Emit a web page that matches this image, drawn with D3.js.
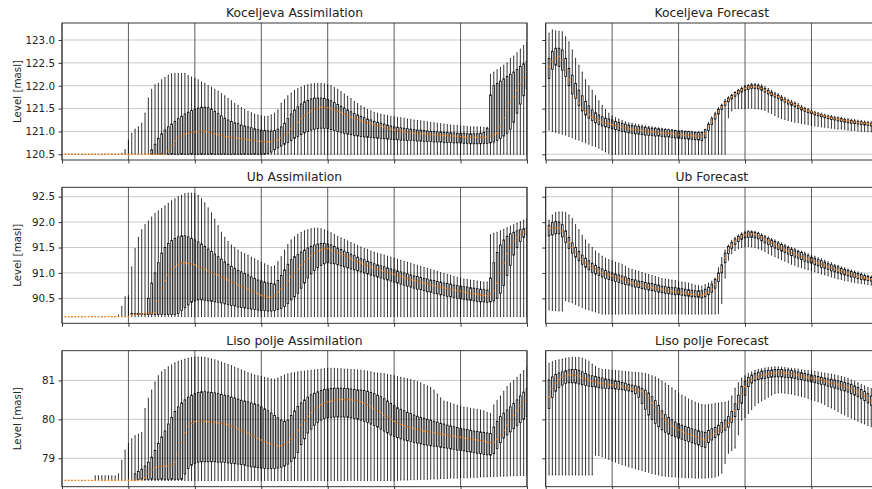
<!DOCTYPE html>
<html>
<head>
<meta charset="utf-8">
<script src="https://cdn.jsdelivr.net/npm/d3@7.9.0/dist/d3.min.js"></script>
<style>
  body { margin: 0; background: #fff; }
  svg { display: block; }
  text { font-family: "DejaVu Sans", sans-serif; }
</style>
</head>
<body>
<svg id="chart" width="872" height="489"></svg>
<script>
// ---- Koceljeva, assimilation (140 steps) ----
const kocAsmLo = [
  120.5,120.5,120.5,120.5,120.5,120.5,120.5,120.5,120.5,120.5,
  120.5,120.5,120.5,120.5,120.5,120.5,120.5,120.5,120.5,120.5,
  120.5,120.5,120.5,120.5,120.5,120.5,120.5,120.5,120.5,120.5,
  120.5,120.5,120.5,120.5,120.5,120.5,120.5,120.5,120.5,120.5,
  120.5,120.5,120.5,120.5,120.5,120.5,120.5,120.5,120.5,120.5,
  120.5,120.5,120.5,120.5,120.5,120.5,120.5,120.5,120.5,120.5,
  120.5,120.5,120.5,120.5,120.5,120.5,120.5,120.5,120.5,120.5,
  120.5,120.5,120.5,120.5,120.5,120.5,120.5,120.5,120.5,120.5,
  120.5,120.5,120.5,120.5,120.5,120.5,120.5,120.5,120.5,120.5,
  120.5,120.5,120.5,120.5,120.5,120.5,120.5,120.5,120.5,120.5,
  120.5,120.5,120.5,120.5,120.5,120.5,120.5,120.5,120.5,120.5,
  120.5,120.5,120.5,120.5,120.5,120.5,120.5,120.5,120.5,120.5,
  120.5,120.5,120.5,120.5,120.5,120.5,120.5,120.5,120.5,120.5,
  120.5,120.5,120.5,120.5,120.5,120.5,120.5,120.5,120.5,120.5];
const kocAsmQ1 = [
  120.5,120.5,120.5,120.5,120.5,120.5,120.5,120.5,120.5,120.5,
  120.5,120.5,120.5,120.5,120.5,120.5,120.5,120.5,120.5,120.5,
  120.5,120.5,120.5,120.5,120.5,120.5,120.5,120.5,120.5,120.5,
  120.5,120.5,120.5,120.5,120.5,120.5,120.5,120.5,120.5,120.5,
  120.5,120.5,120.5,120.5,120.5,120.5,120.5,120.5,120.5,120.5,
  120.5,120.5,120.5,120.5,120.5,120.5,120.5,120.5,120.5,120.5,
  120.5,120.52,120.55,120.6,120.64,120.68,120.72,120.76,120.8,120.85,
  120.89,120.93,120.97,121.0,121.03,121.05,121.06,121.07,121.07,121.06,
  121.04,121.02,121.0,120.98,120.96,120.94,120.93,120.91,120.9,120.89,
  120.88,120.87,120.87,120.86,120.85,120.85,120.84,120.83,120.83,120.82,
  120.82,120.81,120.81,120.8,120.8,120.8,120.79,120.79,120.78,120.78,
  120.78,120.77,120.77,120.77,120.76,120.76,120.76,120.75,120.75,120.75,
  120.74,120.74,120.73,120.73,120.73,120.73,120.74,120.74,120.75,120.77,
  120.8,120.85,120.9,120.96,121.05,121.2,121.4,121.6,121.78,121.94];
const kocAsmMed = [
  120.5,120.5,120.5,120.5,120.5,120.5,120.5,120.5,120.5,120.5,
  120.5,120.5,120.5,120.5,120.5,120.5,120.5,120.5,120.5,120.5,
  120.5,120.5,120.5,120.5,120.5,120.5,120.5,120.5,120.5,120.5,
  120.5,120.58,120.7,120.8,120.86,120.9,120.94,120.96,120.98,120.99,
  121.0,121.0,121.0,120.99,120.97,120.95,120.93,120.91,120.89,120.88,
  120.87,120.86,120.85,120.84,120.83,120.82,120.81,120.8,120.79,120.78,
  120.77,120.77,120.78,120.8,120.82,120.86,120.92,120.98,121.05,121.12,
  121.2,121.28,121.35,121.41,121.45,121.49,121.51,121.53,121.53,121.52,
  121.5,121.47,121.44,121.41,121.38,121.35,121.32,121.29,121.26,121.23,
  121.21,121.19,121.17,121.15,121.13,121.11,121.09,121.07,121.05,121.03,
  121.02,121.01,121.0,120.99,120.98,120.97,120.96,120.95,120.95,120.94,
  120.93,120.93,120.92,120.92,120.91,120.91,120.9,120.9,120.89,120.89,
  120.88,120.88,120.87,120.87,120.87,120.87,120.87,120.88,120.9,120.93,
  120.96,121.1,121.3,121.47,121.62,121.76,121.9,122.04,122.18,122.31];
const kocAsmQ3 = [
  120.5,120.5,120.5,120.5,120.5,120.5,120.5,120.5,120.5,120.5,
  120.5,120.5,120.5,120.5,120.5,120.5,120.5,120.5,120.5,120.5,
  120.5,120.5,120.5,120.5,120.5,120.5,120.6,120.72,120.85,120.95,
  121.03,121.1,121.16,121.22,121.28,121.33,121.38,121.42,121.46,121.49,
  121.51,121.53,121.53,121.52,121.49,121.44,121.39,121.34,121.29,121.25,
  121.22,121.19,121.17,121.14,121.12,121.1,121.08,121.06,121.04,121.03,
  121.02,121.01,121.01,121.02,121.05,121.1,121.18,121.28,121.38,121.47,
  121.54,121.6,121.65,121.68,121.71,121.73,121.73,121.73,121.72,121.7,
  121.67,121.63,121.59,121.55,121.51,121.47,121.43,121.39,121.36,121.33,
  121.3,121.27,121.25,121.22,121.2,121.18,121.16,121.14,121.12,121.1,
  121.09,121.08,121.07,121.06,121.05,121.04,121.03,121.03,121.02,121.01,
  121.0,121.0,120.99,120.99,120.98,120.98,120.97,120.97,120.96,120.96,
  120.96,120.95,120.95,120.95,120.95,120.96,120.98,121.07,121.8,122.0,
  122.05,122.1,122.15,122.2,122.25,122.3,122.36,122.42,122.48,122.53];
const kocAsmHi = [
  120.5,120.5,120.5,120.5,120.5,120.5,120.5,120.5,120.5,120.5,
  120.5,120.5,120.5,120.5,120.5,120.5,120.5,120.52,120.6,120.81,
  120.96,121.05,121.1,121.18,121.4,121.73,121.92,122.02,122.05,122.13,
  122.18,122.23,122.26,122.27,122.27,122.27,122.27,122.22,122.19,122.16,
  122.13,122.08,122.05,122.0,121.97,121.92,121.88,121.83,121.78,121.72,
  121.67,121.61,121.57,121.52,121.48,121.44,121.41,121.38,121.36,121.34,
  121.33,121.33,121.36,121.4,121.47,121.62,121.7,121.78,121.84,121.9,
  121.94,121.97,122.0,122.02,122.04,122.05,122.05,122.05,122.04,122.02,
  122.0,121.96,121.92,121.87,121.82,121.77,121.72,121.66,121.61,121.56,
  121.52,121.48,121.45,121.42,121.4,121.38,121.36,121.35,121.33,121.32,
  121.31,121.3,121.29,121.27,121.26,121.25,121.24,121.23,121.22,121.21,
  121.2,121.19,121.18,121.17,121.16,121.15,121.14,121.13,121.13,121.12,
  121.12,121.11,121.1,121.1,121.1,121.1,121.09,121.09,122.25,122.3,
  122.35,122.4,122.45,122.5,122.6,122.65,122.72,122.8,122.88,122.95];

// ---- Ub, assimilation (140 steps) ----
const ubAsmLo = [
  90.14,90.14,90.14,90.14,90.14,90.14,90.14,90.14,90.14,90.14,
  90.14,90.14,90.14,90.14,90.14,90.14,90.14,90.14,90.14,90.14,
  90.14,90.14,90.14,90.14,90.14,90.14,90.14,90.14,90.14,90.14,
  90.14,90.14,90.14,90.14,90.14,90.14,90.14,90.14,90.14,90.14,
  90.14,90.14,90.14,90.14,90.14,90.14,90.14,90.14,90.14,90.14,
  90.14,90.14,90.14,90.14,90.14,90.14,90.14,90.14,90.14,90.14,
  90.14,90.14,90.14,90.14,90.14,90.14,90.14,90.14,90.14,90.14,
  90.14,90.14,90.14,90.14,90.14,90.14,90.14,90.14,90.14,90.14,
  90.14,90.14,90.14,90.14,90.14,90.14,90.14,90.14,90.14,90.14,
  90.14,90.14,90.14,90.14,90.14,90.14,90.14,90.14,90.14,90.14,
  90.14,90.14,90.14,90.14,90.14,90.14,90.14,90.14,90.14,90.14,
  90.14,90.14,90.14,90.14,90.14,90.14,90.14,90.14,90.14,90.14,
  90.14,90.14,90.14,90.14,90.14,90.14,90.14,90.14,90.14,90.14,
  90.14,90.14,90.14,90.14,90.14,90.14,90.14,90.14,90.14,90.14];
const ubAsmQ1 = [
  90.14,90.14,90.14,90.14,90.14,90.14,90.14,90.14,90.14,90.14,
  90.14,90.14,90.14,90.14,90.14,90.14,90.14,90.14,90.14,90.14,
  90.18,90.18,90.18,90.18,90.18,90.18,90.18,90.18,90.18,90.18,
  90.18,90.18,90.18,90.18,90.2,90.26,90.32,90.37,90.42,90.45,
  90.47,90.47,90.46,90.45,90.44,90.43,90.42,90.41,90.39,90.38,
  90.36,90.35,90.33,90.32,90.31,90.3,90.29,90.28,90.27,90.26,
  90.26,90.25,90.25,90.26,90.28,90.3,90.34,90.4,90.47,90.53,
  90.6,90.7,90.8,90.9,90.98,91.05,91.1,91.15,91.18,91.2,
  91.19,91.18,91.16,91.14,91.12,91.1,91.08,91.06,91.04,91.02,
  91.0,90.98,90.96,90.94,90.92,90.9,90.88,90.86,90.84,90.82,
  90.8,90.78,90.76,90.74,90.72,90.7,90.68,90.67,90.65,90.63,
  90.62,90.6,90.59,90.57,90.56,90.54,90.53,90.52,90.5,90.49,
  90.48,90.47,90.46,90.45,90.44,90.43,90.43,90.42,90.43,90.45,
  90.5,90.6,90.75,90.95,91.15,91.35,91.5,91.62,91.7,91.76];
const ubAsmMed = [
  90.14,90.14,90.14,90.14,90.14,90.14,90.14,90.14,90.14,90.14,
  90.14,90.14,90.14,90.14,90.14,90.14,90.14,90.14,90.14,90.14,
  90.18,90.19,90.19,90.2,90.2,90.21,90.21,90.22,90.45,90.7,
  90.85,90.96,91.06,91.12,91.16,91.19,91.2,91.19,91.18,91.16,
  91.13,91.1,91.07,91.04,91.01,90.98,90.95,90.92,90.89,90.86,
  90.83,90.8,90.77,90.74,90.71,90.68,90.65,90.62,90.59,90.56,
  90.54,90.52,90.52,90.55,90.62,90.68,90.76,90.84,90.92,91.0,
  91.08,91.15,91.22,91.28,91.34,91.39,91.43,91.46,91.48,91.48,
  91.45,91.43,91.4,91.37,91.34,91.31,91.28,91.25,91.22,91.2,
  91.17,91.15,91.12,91.1,91.07,91.05,91.03,91.01,90.99,90.97,
  90.95,90.93,90.91,90.89,90.87,90.85,90.84,90.82,90.8,90.79,
  90.77,90.75,90.74,90.72,90.71,90.69,90.68,90.66,90.65,90.64,
  90.62,90.61,90.6,90.59,90.58,90.57,90.56,90.55,90.58,90.65,
  90.8,91.0,91.2,91.38,91.52,91.62,91.7,91.76,91.8,91.84];
const ubAsmQ3 = [
  90.14,90.14,90.14,90.14,90.14,90.14,90.14,90.14,90.14,90.14,
  90.14,90.14,90.14,90.14,90.14,90.14,90.14,90.14,90.14,90.14,
  90.2,90.2,90.2,90.2,90.2,90.5,90.8,91.0,91.2,91.39,
  91.5,91.58,91.64,91.68,91.71,91.73,91.73,91.71,91.68,91.65,
  91.61,91.57,91.52,91.47,91.42,91.37,91.32,91.27,91.22,91.17,
  91.13,91.09,91.05,91.02,90.99,90.96,90.92,90.89,90.86,90.84,
  90.82,90.8,90.79,90.78,90.85,90.95,91.06,91.17,91.26,91.32,
  91.36,91.41,91.45,91.49,91.52,91.55,91.57,91.58,91.58,91.57,
  91.55,91.52,91.49,91.46,91.43,91.4,91.37,91.34,91.31,91.28,
  91.26,91.23,91.21,91.18,91.16,91.14,91.12,91.1,91.08,91.06,
  91.04,91.02,91.0,90.98,90.96,90.94,90.93,90.91,90.89,90.88,
  90.86,90.85,90.83,90.82,90.8,90.79,90.78,90.76,90.75,90.74,
  90.73,90.72,90.71,90.7,90.69,90.68,90.67,90.66,90.9,91.2,
  91.4,91.55,91.65,91.72,91.77,91.8,91.83,91.85,91.87,91.89];
const ubAsmHi = [
  90.14,90.14,90.14,90.14,90.14,90.14,90.14,90.14,90.14,90.14,
  90.14,90.14,90.14,90.14,90.14,90.14,90.17,90.34,90.53,90.55,
  91.12,91.48,91.7,91.85,91.95,92.02,92.1,92.17,92.22,92.27,
  92.32,92.37,92.42,92.46,92.5,92.53,92.56,92.57,92.57,92.56,
  92.53,92.46,92.38,92.28,92.18,92.06,91.93,91.8,91.7,91.62,
  91.55,91.5,91.45,91.41,91.38,91.35,91.31,91.28,91.24,91.21,
  91.18,91.15,91.12,91.14,91.22,91.32,91.45,91.56,91.65,91.71,
  91.76,91.8,91.83,91.85,91.87,91.88,91.88,91.87,91.85,91.82,
  91.79,91.76,91.72,91.69,91.66,91.63,91.6,91.57,91.54,91.51,
  91.48,91.46,91.43,91.41,91.39,91.37,91.35,91.33,91.31,91.29,
  91.27,91.25,91.23,91.21,91.19,91.17,91.15,91.13,91.11,91.09,
  91.07,91.05,91.03,91.01,90.99,90.97,90.95,90.93,90.91,90.9,
  90.88,90.87,90.86,90.85,90.84,90.83,90.82,90.82,91.75,91.78,
  91.8,91.83,91.86,91.89,91.92,91.95,91.98,92.01,92.04,92.07];

// ---- Liso polje, assimilation (140 steps) ----
const lisoAsmLo = [
  78.43,78.43,78.43,78.43,78.43,78.43,78.43,78.43,78.43,78.43,
  78.43,78.43,78.43,78.43,78.43,78.43,78.43,78.43,78.43,78.43,
  78.43,78.43,78.43,78.43,78.43,78.43,78.43,78.43,78.43,78.43,
  78.43,78.43,78.43,78.43,78.43,78.43,78.43,78.43,78.43,78.43,
  78.43,78.43,78.43,78.43,78.43,78.43,78.43,78.43,78.43,78.43,
  78.43,78.43,78.43,78.43,78.43,78.43,78.43,78.43,78.43,78.43,
  78.43,78.43,78.43,78.43,78.43,78.43,78.43,78.43,78.43,78.43,
  78.43,78.43,78.43,78.43,78.43,78.43,78.43,78.43,78.43,78.43,
  78.43,78.43,78.43,78.43,78.43,78.43,78.43,78.43,78.43,78.43,
  78.43,78.43,78.43,78.43,78.43,78.43,78.43,78.43,78.43,78.43,
  78.43,78.44,78.44,78.44,78.45,78.45,78.45,78.46,78.46,78.46,
  78.47,78.47,78.47,78.48,78.48,78.48,78.49,78.49,78.49,78.5,
  78.5,78.5,78.51,78.51,78.51,78.52,78.52,78.52,78.53,78.53,
  78.53,78.54,78.54,78.54,78.55,78.55,78.55,78.56,78.56,78.56];
const lisoAsmQ1 = [
  78.43,78.43,78.43,78.43,78.43,78.43,78.43,78.43,78.43,78.43,
  78.43,78.43,78.43,78.43,78.43,78.43,78.43,78.43,78.43,78.43,
  78.43,78.43,78.46,78.46,78.46,78.46,78.46,78.46,78.46,78.46,
  78.46,78.46,78.46,78.46,78.46,78.46,78.6,78.74,78.82,78.87,
  78.9,78.91,78.91,78.91,78.91,78.91,78.9,78.9,78.89,78.88,
  78.87,78.86,78.85,78.84,78.82,78.8,78.78,78.77,78.76,78.75,
  78.74,78.74,78.74,78.74,78.75,78.77,78.8,78.85,78.92,79.0,
  79.15,79.35,79.5,79.65,79.75,79.85,79.92,79.98,80.02,80.04,
  80.05,80.06,80.06,80.06,80.06,80.05,80.04,80.02,80.0,79.98,
  79.95,79.92,79.88,79.84,79.8,79.75,79.7,79.65,79.6,79.56,
  79.53,79.5,79.47,79.45,79.43,79.41,79.39,79.37,79.35,79.34,
  79.32,79.31,79.3,79.28,79.27,79.26,79.24,79.23,79.21,79.2,
  79.19,79.17,79.16,79.15,79.13,79.12,79.1,79.09,79.08,79.12,
  79.25,79.4,79.52,79.6,79.68,79.76,79.84,79.92,80.0,80.07];
const lisoAsmMed = [
  78.43,78.43,78.43,78.43,78.43,78.43,78.43,78.43,78.43,78.43,
  78.43,78.43,78.43,78.43,78.43,78.43,78.43,78.43,78.43,78.43,
  78.43,78.43,78.43,78.43,78.5,78.6,78.7,78.76,78.78,78.79,
  78.8,78.8,78.82,78.9,79.1,79.4,79.65,79.82,79.9,79.94,
  79.96,79.95,79.94,79.94,79.93,79.92,79.91,79.9,79.88,79.86,
  79.83,79.8,79.76,79.72,79.68,79.64,79.6,79.56,79.51,79.47,
  79.43,79.39,79.36,79.34,79.32,79.32,79.35,79.42,79.5,79.6,
  79.72,79.85,79.97,80.08,80.17,80.25,80.32,80.38,80.42,80.45,
  80.47,80.49,80.5,80.51,80.51,80.51,80.5,80.49,80.47,80.45,
  80.42,80.38,80.33,80.28,80.22,80.17,80.11,80.05,80.0,79.95,
  79.91,79.87,79.84,79.81,79.78,79.76,79.74,79.72,79.7,79.69,
  79.67,79.66,79.64,79.63,79.61,79.6,79.58,79.57,79.55,79.54,
  79.52,79.51,79.5,79.48,79.47,79.46,79.44,79.42,79.4,79.42,
  79.5,79.6,79.72,79.85,79.98,80.1,80.22,80.34,80.46,80.58];
const lisoAsmQ3 = [
  78.43,78.43,78.43,78.43,78.43,78.43,78.43,78.43,78.43,78.43,
  78.43,78.43,78.43,78.43,78.43,78.43,78.43,78.43,78.43,78.43,
  78.43,78.6,78.66,78.72,78.8,78.9,79.03,79.2,79.38,79.55,
  79.7,79.88,80.05,80.2,80.32,80.42,80.5,80.57,80.62,80.66,
  80.69,80.71,80.71,80.7,80.69,80.68,80.66,80.64,80.62,80.6,
  80.57,80.55,80.52,80.49,80.47,80.45,80.42,80.4,80.37,80.32,
  80.27,80.22,80.16,80.1,80.04,79.98,79.95,79.98,80.1,80.22,
  80.33,80.42,80.5,80.57,80.63,80.67,80.71,80.74,80.77,80.78,
  80.79,80.8,80.8,80.8,80.79,80.79,80.78,80.77,80.76,80.75,
  80.74,80.72,80.69,80.66,80.62,80.58,80.53,80.47,80.41,80.35,
  80.3,80.26,80.22,80.18,80.15,80.11,80.08,80.05,80.03,80.0,
  79.98,79.95,79.93,79.9,79.88,79.85,79.83,79.81,79.79,79.77,
  79.75,79.74,79.72,79.7,79.69,79.68,79.66,79.65,79.64,79.8,
  79.95,80.07,80.16,80.24,80.32,80.41,80.5,80.6,80.7,80.79];
const lisoAsmHi = [
  78.43,78.43,78.43,78.43,78.43,78.43,78.43,78.43,78.43,78.55,
  78.55,78.55,78.55,78.55,78.55,78.55,78.6,78.95,79.21,79.38,
  79.5,79.58,79.62,79.66,80.28,80.54,80.75,80.96,81.12,81.22,
  81.28,81.35,81.4,81.45,81.49,81.52,81.55,81.57,81.59,81.6,
  81.6,81.6,81.59,81.57,81.55,81.53,81.5,81.47,81.44,81.41,
  81.38,81.34,81.31,81.27,81.24,81.2,81.17,81.14,81.12,81.1,
  81.08,81.06,81.04,81.03,81.06,81.1,81.14,81.17,81.19,81.2,
  81.22,81.23,81.24,81.25,81.26,81.27,81.28,81.29,81.3,81.31,
  81.31,81.31,81.3,81.3,81.29,81.29,81.28,81.28,81.27,81.26,
  81.25,81.24,81.22,81.2,81.19,81.18,81.17,81.15,81.14,81.12,
  81.1,81.08,81.06,81.04,81.02,81.0,80.97,80.94,80.9,80.86,
  80.82,80.75,80.65,80.55,80.47,80.45,80.42,80.39,80.36,80.33,
  80.31,80.3,80.28,80.27,80.25,80.24,80.22,80.18,80.15,80.37,
  80.48,80.6,80.72,80.84,80.93,81.0,81.08,81.16,81.25,81.35];

// ---- Koceljeva, forecast (100 steps) ----
const kocFcLo = [
  121.03,121.0,120.98,120.96,120.94,120.92,120.89,120.86,120.83,120.81,
  120.78,120.75,120.72,120.69,120.67,120.63,120.59,120.55,120.52,120.5,
  120.5,120.5,120.5,120.5,120.5,120.5,120.5,120.5,120.5,120.5,
  120.5,120.5,120.5,120.5,120.5,120.5,120.5,120.5,120.5,120.5,
  120.5,120.5,120.5,120.5,120.5,120.5,120.5,120.5,120.5,120.5,
  120.5,120.5,120.5,120.5,121.3,121.45,121.5,121.5,121.5,121.5,
  121.51,121.51,121.5,121.49,121.48,121.46,121.42,121.39,121.35,121.31,
  121.28,121.26,121.24,121.22,121.2,121.19,121.17,121.16,121.15,121.13,
  121.12,121.11,121.1,121.09,121.08,121.07,121.06,121.05,121.05,121.04,
  121.03,121.02,121.02,121.01,121.0,121.0,120.99,120.99,120.98,120.98];
const kocFcQ1 = [
  122.16,122.36,122.45,122.42,122.34,122.2,122.0,121.82,121.72,121.57,
  121.45,121.36,121.29,121.24,121.19,121.15,121.12,121.1,121.08,121.06,
  121.04,121.02,121.0,120.99,120.97,120.96,120.95,120.94,120.93,120.92,
  120.91,120.91,120.9,120.9,120.89,120.88,120.88,120.87,120.86,120.85,
  120.85,120.84,120.83,120.83,120.82,120.81,120.8,120.86,121.02,121.15,
  121.27,121.38,121.48,121.57,121.65,121.71,121.77,121.82,121.86,121.9,
  121.92,121.94,121.94,121.93,121.9,121.86,121.82,121.78,121.75,121.72,
  121.68,121.64,121.6,121.57,121.54,121.5,121.47,121.44,121.41,121.39,
  121.36,121.34,121.32,121.3,121.28,121.26,121.25,121.23,121.22,121.2,
  121.19,121.18,121.17,121.16,121.15,121.14,121.13,121.12,121.12,121.11];
const kocFcMed = [
  122.42,122.53,122.6,122.64,122.56,122.34,122.13,121.91,121.76,121.62,
  121.52,121.44,121.37,121.31,121.28,121.24,121.21,121.19,121.17,121.15,
  121.13,121.12,121.1,121.08,121.06,121.05,121.04,121.03,121.02,121.01,
  121.0,120.99,120.99,120.98,120.97,120.96,120.96,120.95,120.94,120.93,
  120.93,120.92,120.92,120.91,120.9,120.9,120.89,120.95,121.1,121.22,
  121.33,121.43,121.53,121.62,121.7,121.76,121.82,121.86,121.91,121.94,
  121.97,121.98,121.98,121.97,121.94,121.9,121.86,121.82,121.79,121.76,
  121.72,121.68,121.65,121.62,121.59,121.55,121.51,121.48,121.45,121.43,
  121.4,121.38,121.36,121.34,121.31,121.3,121.28,121.27,121.26,121.24,
  121.23,121.22,121.21,121.2,121.19,121.18,121.17,121.16,121.16,121.15];
const kocFcQ3 = [
  122.6,122.75,122.82,122.82,122.78,122.6,122.38,122.23,122.05,121.9,
  121.78,121.66,121.56,121.47,121.41,121.36,121.32,121.29,121.27,121.25,
  121.22,121.2,121.18,121.16,121.14,121.13,121.12,121.11,121.1,121.09,
  121.08,121.07,121.07,121.06,121.05,121.04,121.04,121.03,121.02,121.01,
  121.01,121.0,121.0,120.99,120.98,120.98,120.98,121.04,121.16,121.28,
  121.38,121.48,121.57,121.66,121.73,121.79,121.85,121.9,121.94,121.98,
  122.0,122.02,122.02,122.01,121.98,121.94,121.9,121.86,121.82,121.79,
  121.75,121.71,121.67,121.64,121.61,121.57,121.53,121.5,121.47,121.44,
  121.41,121.39,121.37,121.35,121.33,121.32,121.3,121.29,121.28,121.26,
  121.25,121.24,121.23,121.22,121.21,121.2,121.19,121.18,121.18,121.17];
const kocFcHi = [
  123.15,123.22,123.2,123.19,123.18,123.07,122.96,122.78,122.6,122.45,
  122.3,122.13,122.0,121.9,121.78,121.67,121.57,121.48,121.4,121.34,
  121.3,121.27,121.24,121.21,121.19,121.18,121.16,121.15,121.14,121.12,
  121.11,121.1,121.09,121.08,121.07,121.06,121.05,121.04,121.03,121.02,
  121.02,121.01,121.0,121.0,120.99,120.99,120.99,121.05,121.2,121.32,
  121.42,121.52,121.6,121.7,121.76,121.81,121.87,121.92,121.97,122.01,
  122.03,122.05,122.05,122.04,122.02,121.98,121.94,121.9,121.86,121.83,
  121.79,121.75,121.71,121.68,121.65,121.61,121.57,121.53,121.5,121.47,
  121.44,121.42,121.4,121.38,121.36,121.35,121.33,121.32,121.31,121.29,
  121.28,121.27,121.26,121.25,121.24,121.23,121.22,121.21,121.2,121.2];

// ---- Ub, forecast (100 steps) ----
const ubFcLo = [
  90.27,90.26,90.26,90.25,90.25,90.45,90.43,90.41,90.38,90.35,
  90.32,90.29,90.27,90.25,90.23,90.21,90.19,90.19,90.19,90.19,
  90.19,90.19,90.19,90.19,90.19,90.19,90.19,90.19,90.19,90.19,
  90.19,90.19,90.19,90.19,90.19,90.19,90.19,90.19,90.19,90.19,
  90.19,90.19,90.19,90.19,90.19,90.19,90.19,90.19,90.19,90.19,
  90.19,90.2,90.4,90.9,91.25,91.38,91.44,91.48,91.5,91.52,
  91.52,91.51,91.5,91.48,91.45,91.42,91.38,91.35,91.32,91.29,
  91.26,91.23,91.2,91.17,91.15,91.12,91.1,91.08,91.06,91.04,
  91.02,91.0,90.98,90.96,90.94,90.92,90.9,90.88,90.87,90.85,
  90.84,90.82,90.81,90.8,90.79,90.78,90.77,90.76,90.75,90.74];
const ubFcQ1 = [
  91.73,91.75,91.77,91.77,91.71,91.6,91.48,91.39,91.31,91.24,
  91.17,91.11,91.06,91.01,90.98,90.95,90.92,90.89,90.87,90.85,
  90.83,90.81,90.79,90.77,90.76,90.74,90.72,90.71,90.69,90.68,
  90.66,90.65,90.64,90.62,90.61,90.6,90.59,90.58,90.57,90.57,
  90.56,90.55,90.54,90.53,90.53,90.52,90.51,90.53,90.57,90.62,
  90.7,90.83,91.0,91.2,91.38,91.48,91.56,91.62,91.66,91.69,
  91.7,91.7,91.69,91.67,91.63,91.59,91.56,91.52,91.49,91.46,
  91.43,91.4,91.37,91.34,91.31,91.29,91.26,91.23,91.21,91.19,
  91.16,91.14,91.11,91.09,91.07,91.04,91.02,91.0,90.98,90.96,
  90.94,90.92,90.91,90.89,90.87,90.86,90.85,90.84,90.83,90.82];
const ubFcMed = [
  91.88,91.88,91.89,91.88,91.82,91.72,91.6,91.5,91.41,91.33,
  91.26,91.2,91.15,91.1,91.07,91.04,91.01,90.98,90.96,90.94,
  90.92,90.9,90.88,90.86,90.83,90.81,90.79,90.77,90.76,90.74,
  90.73,90.71,90.7,90.69,90.68,90.66,90.65,90.64,90.63,90.62,
  90.61,90.6,90.59,90.58,90.58,90.57,90.56,90.58,90.62,90.68,
  90.77,90.9,91.06,91.3,91.45,91.55,91.62,91.67,91.72,91.75,
  91.77,91.77,91.76,91.74,91.7,91.66,91.63,91.59,91.56,91.52,
  91.49,91.46,91.43,91.4,91.37,91.35,91.32,91.29,91.27,91.25,
  91.22,91.2,91.17,91.15,91.12,91.1,91.07,91.05,91.03,91.01,
  90.99,90.97,90.95,90.93,90.91,90.9,90.88,90.87,90.86,90.85];
const ubFcQ3 = [
  91.94,91.99,92.01,92.0,91.95,91.83,91.7,91.59,91.5,91.42,
  91.35,91.29,91.24,91.19,91.15,91.11,91.08,91.05,91.02,91.0,
  90.98,90.96,90.94,90.92,90.89,90.87,90.86,90.84,90.83,90.81,
  90.8,90.79,90.77,90.76,90.74,90.73,90.72,90.71,90.71,90.7,
  90.69,90.68,90.67,90.66,90.65,90.65,90.65,90.68,90.72,90.78,
  90.87,91.0,91.16,91.39,91.52,91.6,91.67,91.72,91.76,91.79,
  91.81,91.81,91.8,91.78,91.74,91.71,91.68,91.65,91.62,91.59,
  91.56,91.53,91.5,91.47,91.45,91.42,91.4,91.37,91.34,91.31,
  91.29,91.26,91.24,91.21,91.18,91.16,91.14,91.12,91.09,91.07,
  91.05,91.03,91.01,90.99,90.97,90.95,90.93,90.91,90.9,90.89];
const ubFcHi = [
  92.04,92.14,92.19,92.2,92.2,92.19,92.14,92.07,91.95,91.85,
  91.74,91.65,91.57,91.5,91.43,91.38,91.33,91.29,91.26,91.24,
  91.21,91.19,91.17,91.13,91.09,91.07,91.05,91.03,91.01,90.99,
  90.97,90.95,90.93,90.91,90.89,90.88,90.87,90.86,90.85,90.83,
  90.82,90.81,90.8,90.78,90.76,90.75,90.74,90.77,90.8,90.84,
  90.9,91.1,91.3,91.45,91.55,91.64,91.7,91.75,91.79,91.82,
  91.83,91.83,91.82,91.8,91.77,91.74,91.71,91.68,91.65,91.62,
  91.59,91.56,91.53,91.5,91.48,91.45,91.43,91.41,91.38,91.35,
  91.33,91.3,91.28,91.25,91.22,91.2,91.17,91.15,91.12,91.1,
  91.08,91.06,91.04,91.02,91.0,90.98,90.96,90.94,90.93,90.92];

// ---- Liso polje, forecast (100 steps) ----
const lisoFcLo = [
  78.57,78.57,78.57,78.57,78.57,78.57,78.57,78.57,78.57,78.57,
  78.57,78.57,78.57,78.57,79.08,79.07,79.04,79.01,78.97,78.93,
  78.9,78.87,78.84,78.81,78.78,78.76,78.73,78.71,78.69,78.66,
  78.64,78.61,78.59,78.57,78.55,78.54,78.53,78.52,78.52,78.51,
  78.51,78.5,78.5,78.5,78.49,78.49,78.49,78.49,78.5,78.51,
  78.52,78.55,78.62,78.87,79.13,79.2,79.26,79.6,79.98,80.05,
  80.15,80.25,80.35,80.42,80.47,80.52,80.57,80.62,80.66,80.68,
  80.68,80.67,80.66,80.65,80.63,80.61,80.59,80.57,80.54,80.51,
  80.48,80.45,80.42,80.38,80.33,80.29,80.25,80.2,80.15,80.11,
  80.07,80.03,79.99,79.95,79.91,79.88,79.84,79.81,79.79,79.77];
const lisoFcQ1 = [
  80.28,80.56,80.72,80.82,80.88,80.92,80.94,80.94,80.93,80.91,
  80.89,80.87,80.85,80.84,80.83,80.81,80.8,80.79,80.79,80.79,
  80.78,80.77,80.76,80.75,80.73,80.71,80.66,80.56,80.41,80.26,
  80.11,80.0,79.9,79.81,79.73,79.67,79.62,79.58,79.55,79.52,
  79.49,79.46,79.43,79.4,79.37,79.34,79.3,79.28,79.4,79.47,
  79.53,79.6,79.66,79.72,79.8,79.92,80.07,80.25,80.41,80.62,
  80.84,80.93,80.99,81.02,81.04,81.05,81.07,81.08,81.09,81.09,
  81.09,81.08,81.07,81.06,81.05,81.03,81.02,81.0,80.98,80.96,
  80.94,80.92,80.9,80.88,80.85,80.83,80.8,80.78,80.75,80.73,
  80.7,80.66,80.62,80.58,80.53,80.48,80.42,80.36,80.32,80.3];
const lisoFcMed = [
  80.58,80.79,80.93,81.02,81.08,81.12,81.14,81.14,81.13,81.11,
  81.07,81.03,81.0,80.98,80.96,80.94,80.93,80.91,80.9,80.88,
  80.87,80.86,80.84,80.82,80.8,80.78,80.76,80.74,80.71,80.64,
  80.55,80.42,80.3,80.18,80.08,79.99,79.91,79.84,79.78,79.73,
  79.69,79.66,79.62,79.59,79.56,79.53,79.5,79.47,79.55,79.6,
  79.64,79.7,79.76,79.83,79.9,80.02,80.22,80.45,80.66,80.84,
  80.95,81.02,81.07,81.1,81.13,81.15,81.17,81.18,81.19,81.2,
  81.2,81.19,81.18,81.17,81.15,81.13,81.11,81.09,81.08,81.06,
  81.04,81.03,81.01,80.99,80.96,80.94,80.92,80.9,80.87,80.85,
  80.82,80.78,80.74,80.7,80.65,80.6,80.54,80.48,80.45,80.42];
const lisoFcQ3 = [
  81.01,81.09,81.15,81.19,81.22,81.25,81.27,81.28,81.28,81.26,
  81.22,81.18,81.14,81.12,81.1,81.08,81.06,81.04,81.02,81.01,
  80.99,80.97,80.95,80.93,80.9,80.88,80.86,80.84,80.8,80.75,
  80.68,80.58,80.48,80.36,80.22,80.12,80.05,79.99,79.93,79.89,
  79.85,79.82,79.79,79.76,79.73,79.71,79.68,79.66,79.72,79.76,
  79.79,79.85,79.92,79.98,80.07,80.2,80.4,80.62,80.85,80.98,
  81.08,81.14,81.18,81.21,81.24,81.25,81.26,81.27,81.28,81.28,
  81.28,81.27,81.27,81.26,81.24,81.22,81.2,81.18,81.16,81.14,
  81.12,81.1,81.08,81.06,81.04,81.03,81.01,80.99,80.97,80.95,
  80.93,80.9,80.86,80.82,80.77,80.72,80.66,80.6,80.56,80.52];
const lisoFcHi = [
  81.44,81.48,81.51,81.53,81.55,81.57,81.58,81.59,81.59,81.59,
  81.57,81.53,81.49,81.42,81.36,81.31,81.28,81.28,81.27,81.26,
  81.26,81.25,81.24,81.23,81.22,81.21,81.21,81.2,81.19,81.18,
  81.15,81.12,81.09,81.04,80.98,80.93,80.87,80.81,80.74,80.68,
  80.62,80.58,80.52,80.48,80.44,80.41,80.38,80.37,80.38,80.39,
  80.41,80.42,80.43,80.44,80.47,80.6,80.8,80.94,81.06,81.12,
  81.18,81.22,81.26,81.28,81.3,81.32,81.33,81.34,81.35,81.35,
  81.34,81.33,81.32,81.31,81.3,81.29,81.27,81.26,81.25,81.24,
  81.23,81.22,81.2,81.19,81.17,81.16,81.14,81.12,81.1,81.08,
  81.05,81.01,80.98,80.94,80.9,80.86,80.82,80.79,80.76,80.73];

// ---- axes settings ----
const yLims = [[120.375, 123.372], [90.008, 92.685], [78.27, 81.763]];
const yTicks = [[120.5, 121, 121.5, 122, 122.5, 123], [90.5, 91, 91.5, 92, 92.5], [79, 80, 81]];
const yFormats = ['.1f', '.1f', 'd'];
const xLims = [[0, 140], [0, 100]];
const xTicks = [[0, 20, 40, 60, 80, 100, 120, 140], [0, 20, 40, 60, 80, 100]];

const panels = [
  { title: 'Koceljeva Assimilation', row: 0, col: 0, lo: kocAsmLo, q1: kocAsmQ1, med: kocAsmMed, q3: kocAsmQ3, hi: kocAsmHi },
  { title: 'Koceljeva Forecast', row: 0, col: 1, lo: kocFcLo, q1: kocFcQ1, med: kocFcMed, q3: kocFcQ3, hi: kocFcHi },
  { title: 'Ub Assimilation', row: 1, col: 0, lo: ubAsmLo, q1: ubAsmQ1, med: ubAsmMed, q3: ubAsmQ3, hi: ubAsmHi },
  { title: 'Ub Forecast', row: 1, col: 1, lo: ubFcLo, q1: ubFcQ1, med: ubFcMed, q3: ubFcQ3, hi: ubFcHi },
  { title: 'Liso polje Assimilation', row: 2, col: 0, lo: lisoAsmLo, q1: lisoAsmQ1, med: lisoAsmMed, q3: lisoAsmQ3, hi: lisoAsmHi },
  { title: 'Liso polje Forecast', row: 2, col: 1, lo: lisoFcLo, q1: lisoFcQ1, med: lisoFcMed, q3: lisoFcQ3, hi: lisoFcHi }
];

// pixel frame of each column / row
const colX = [[62, 527], [545.7, 877.9]];
const rowY = [[23, 160], [187.3, 323.3], [350.7, 486.7]];

const svg = d3.select('#chart');
const defs = svg.append('defs');

panels.forEach((p, pi) => {
  const [x0, x1] = colX[p.col];
  const [y0, y1] = rowY[p.row];
  const x = d3.scaleLinear().domain(xLims[p.col]).range([x0, x1]);
  const y = d3.scaleLinear().domain(yLims[p.row]).range([y1, y0]);

  defs.append('clipPath').attr('id', 'clip' + pi)
    .append('rect').attr('x', x0).attr('y', y0).attr('width', x1 - x0).attr('height', y1 - y0);

  const g = svg.append('g');

  // grid
  g.append('g').selectAll('line').data(yTicks[p.row]).join('line')
    .attr('x1', x0).attr('x2', x1)
    .attr('y1', d => y(d)).attr('y2', d => y(d))
    .attr('stroke', '#c4c4c4').attr('stroke-width', 0.9);
  g.append('g').selectAll('line').data(xTicks[p.col]).join('line')
    .attr('x1', d => x(d)).attr('x2', d => x(d))
    .attr('y1', y0).attr('y2', y1)
    .attr('stroke', '#4a4a4a').attr('stroke-width', 0.9);

  // one box per time step
  const boxes = p.med.map((m, i) => ({
    pos: i + 1, lo: p.lo[i], q1: p.q1[i], med: m, q3: p.q3[i], hi: p.hi[i]
  }));
  const bw = (x(0.5) - x(0)) / 2;   // half box width
  const cw = bw / 2;                  // half cap width

  const marks = g.append('g').attr('clip-path', `url(#clip${pi})`);
  marks.append('g').selectAll('path').data(boxes).join('path')
    .attr('d', d => {
      const cx = x(d.pos);
      return `M${cx},${y(d.lo)}V${y(d.q1)}M${cx},${y(d.q3)}V${y(d.hi)}` +
             `M${cx - cw},${y(d.lo)}H${cx + cw}M${cx - cw},${y(d.hi)}H${cx + cw}`;
    })
    .attr('fill', 'none').attr('stroke', '#000').attr('stroke-width', 0.8);
  marks.append('g').selectAll('rect').data(boxes).join('rect')
    .attr('x', d => x(d.pos) - bw).attr('width', 2 * bw)
    .attr('y', d => y(d.q3)).attr('height', d => Math.max(0, y(d.q1) - y(d.q3)))
    .attr('fill', 'none').attr('stroke', '#000').attr('stroke-width', 0.8);
  marks.append('g').selectAll('line').data(boxes).join('line')
    .attr('x1', d => x(d.pos) - bw).attr('x2', d => x(d.pos) + bw)
    .attr('y1', d => y(d.med)).attr('y2', d => y(d.med))
    .attr('stroke', '#ff7f0e').attr('stroke-width', 1.3);

  // axes
  const yAxis = d3.axisLeft(y).tickValues(yTicks[p.row]).tickSize(3.5).tickPadding(3.5)
    .tickFormat(p.col === 0 ? d3.format(yFormats[p.row]) : '');
  const ya = g.append('g').attr('transform', `translate(${x0},0)`).call(yAxis);
  const xAxis = d3.axisBottom(x).tickValues(xTicks[p.col]).tickSize(3.5).tickFormat('');
  const xa = g.append('g').attr('transform', `translate(0,${y1})`).call(xAxis);
  [ya, xa].forEach(a => {
    a.select('.domain').remove();
    a.selectAll('.tick line').attr('stroke', '#222').attr('stroke-width', 0.9);
    a.selectAll('.tick text').attr('fill', '#222').style('font-size', '10.3px')
      .style('font-family', '"DejaVu Sans", sans-serif');
  });

  // spines
  g.append('rect').attr('x', x0).attr('y', y0).attr('width', x1 - x0).attr('height', y1 - y0)
    .attr('fill', 'none').attr('stroke', '#222').attr('stroke-width', 0.9);

  // title
  g.append('text').attr('x', (x0 + x1) / 2).attr('y', y0 - 6)
    .attr('text-anchor', 'middle').attr('fill', '#222').style('font-size', '12.3px')
    .text(p.title);

  if (p.col === 0) {
    g.append('text')
      .attr('transform', `translate(20.5,${(y0 + y1) / 2}) rotate(-90)`)
      .attr('text-anchor', 'middle').attr('fill', '#222').style('font-size', '10.3px')
      .text('Level [masl]');
  }
});
</script>
</body>
</html>
